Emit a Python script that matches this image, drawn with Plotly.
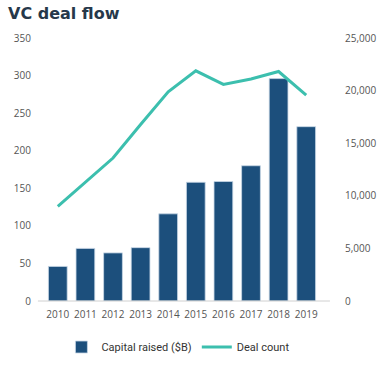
import plotly.graph_objects as go

years = ["2010", "2011", "2012", "2013", "2014", "2015", "2016", "2017", "2018", "2019"]
capital_raised = [46, 70, 64, 71, 116, 158, 159, 180, 296, 232]
deal_count = [9000, 11300, 13590, 16780, 19880, 21880, 20590, 21100, 21815, 19580]
left_ticks = [0, 50, 100, 150, 200, 250, 300, 350]
right_ticks = [0, 5000, 10000, 15000, 20000, 25000]

fig = go.Figure()
fig.add_trace(go.Bar(
    x=years, y=capital_raised, name="Capital raised ($B)",
    marker=dict(color="#1c4f7c", line=dict(color="rgba(200,215,230,0.8)", width=1)),
    width=0.68,
))
fig.add_trace(go.Scatter(
    x=years, y=deal_count, name="Deal count", yaxis="y2", mode="lines",
    line=dict(color="#3cbfae", width=3),
))

fig.update_layout(
    width=387, height=367,
    margin=dict(l=44, r=67, t=38, b=66, autoexpand=False),
    paper_bgcolor="white", plot_bgcolor="white",
    showlegend=True,
    title=dict(text="<b>VC deal flow</b>", x=8 / 387, xref="container", xanchor="left",
               y=1 - 13 / 367, yref="container", yanchor="middle",
               font=dict(family="DejaVu Sans", size=16, color="#26384a")),
    font=dict(family="Open Sans", size=10, color="#555555"),
    bargap=0.3,
    xaxis=dict(showgrid=False, showline=False, ticks="", automargin=False,
               ticklabelstandoff=6, tickfont=dict(size=10, color="#555555")),
    yaxis=dict(range=[0, 350], tickvals=left_ticks, showgrid=False, zeroline=False,
               showline=False, ticks="", ticklabelstandoff=12, automargin=False,
               tickfont=dict(size=10, color="#555555")),
    yaxis2=dict(range=[0, 25000], tickvals=right_ticks, overlaying="y", side="right",
                showgrid=False, zeroline=False, showline=False, ticks="",
                tickformat=",d", ticklabelstandoff=24, automargin=False,
                tickfont=dict(size=10, color="#555555")),
    legend=dict(orientation="h", x=0.487, xanchor="center", y=-0.175, yanchor="middle",
                font=dict(family="Roboto", size=11, color="#333333"),
                itemwidth=30),
    shapes=[dict(type="line", xref="paper", yref="paper", x0=-0.022, x1=1.036, y0=0, y1=0,
                 line=dict(color="#d0d0d0", width=1))],
)

fig.write_html("out.html", config={"displayModeBar": False},
               post_script="document.body.style.margin='0';")
